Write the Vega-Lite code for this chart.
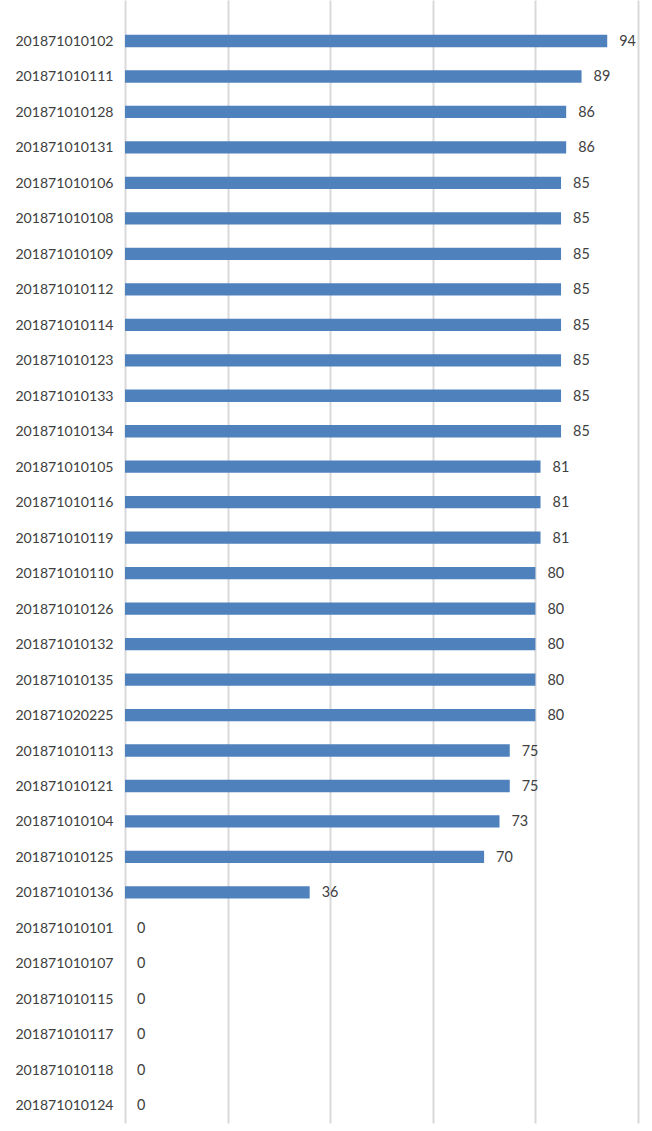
{
  "$schema": "https://vega.github.io/schema/vega-lite/v6.json",
  "autosize": {"type": "none"},
  "padding": {"left": 125, "top": 0, "right": 14, "bottom": 8},
  "width": 513,
  "height": 1123,
  "background": "#ffffff",
  "config": {
    "view": {"stroke": null},
    "font": "Lato"
  },
  "data": {
    "values": [
      {"id": "201871010102", "score": 94},
      {"id": "201871010111", "score": 89},
      {"id": "201871010128", "score": 86},
      {"id": "201871010131", "score": 86},
      {"id": "201871010106", "score": 85},
      {"id": "201871010108", "score": 85},
      {"id": "201871010109", "score": 85},
      {"id": "201871010112", "score": 85},
      {"id": "201871010114", "score": 85},
      {"id": "201871010123", "score": 85},
      {"id": "201871010133", "score": 85},
      {"id": "201871010134", "score": 85},
      {"id": "201871010105", "score": 81},
      {"id": "201871010116", "score": 81},
      {"id": "201871010119", "score": 81},
      {"id": "201871010110", "score": 80},
      {"id": "201871010126", "score": 80},
      {"id": "201871010132", "score": 80},
      {"id": "201871010135", "score": 80},
      {"id": "201871020225", "score": 80},
      {"id": "201871010113", "score": 75},
      {"id": "201871010121", "score": 75},
      {"id": "201871010104", "score": 73},
      {"id": "201871010125", "score": 70},
      {"id": "201871010136", "score": 36},
      {"id": "201871010101", "score": 0},
      {"id": "201871010107", "score": 0},
      {"id": "201871010115", "score": 0},
      {"id": "201871010117", "score": 0},
      {"id": "201871010118", "score": 0},
      {"id": "201871010124", "score": 0}
    ]
  },
  "encoding": {
    "y": {
      "field": "id",
      "type": "nominal",
      "sort": null,
      "scale": {"paddingInner": 0, "paddingOuter": 0.328, "align": 1},
      "axis": {
        "title": null,
        "domain": false,
        "ticks": false,
        "labelPadding": 12,
        "labelFontSize": 14.1,
        "labelColor": "#404040",
        "labelFont": "Lato",
        "labelOffset": 1
      }
    },
    "x": {
      "field": "score",
      "type": "quantitative",
      "scale": {"domain": [0, 100], "nice": false},
      "axis": {
        "title": null,
        "values": [0, 20, 40, 60, 80, 100],
        "grid": true,
        "gridColor": "#d9d9d9",
        "gridWidth": 2,
        "domain": false,
        "ticks": false,
        "labels": false
      }
    }
  },
  "layer": [
    {
      "mark": {"type": "bar", "color": "#4f81bd", "size": 12.3}
    },
    {
      "mark": {
        "type": "text",
        "align": "left",
        "baseline": "middle",
        "dx": 12,
        "dy": 1,
        "fontSize": 14.4,
        "color": "#404040",
        "font": "Lato"
      },
      "encoding": {"text": {"field": "score", "type": "quantitative"}}
    }
  ]
}
